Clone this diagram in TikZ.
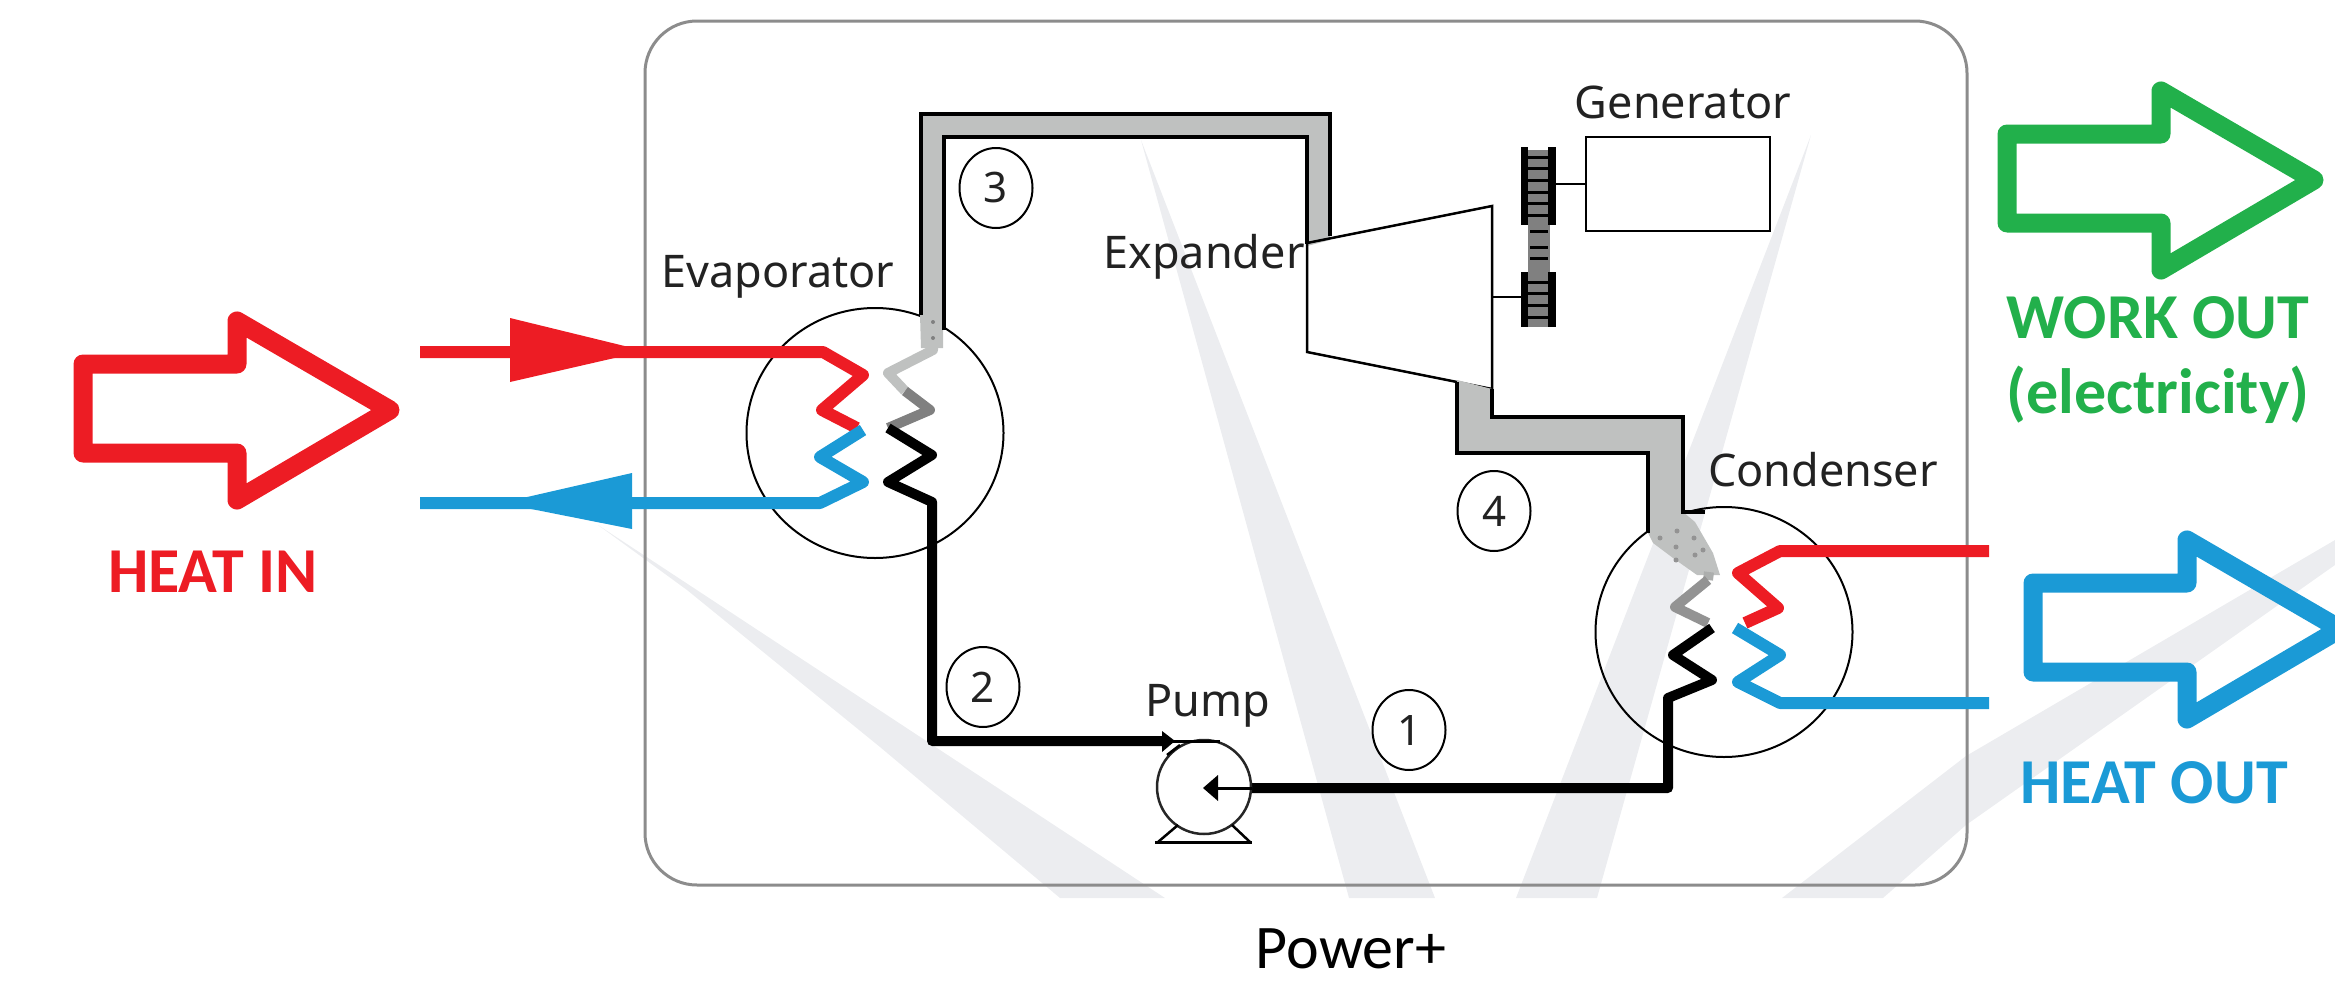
\documentclass[tikz,border=0pt]{standalone}
\usepackage{fontspec}
\setmainfont{Noto Sans}
\newfontfamily\capfont{Carlito}
\usetikzlibrary{shapes.geometric}
\definecolor{hotred}{HTML}{ED1C24}
\definecolor{coldblue}{HTML}{1B9AD6}
\definecolor{workgreen}{HTML}{22B04B}
\definecolor{pipegray}{HTML}{BFC1C0}
\definecolor{midgray}{HTML}{808080}
\definecolor{wmark}{HTML}{ECEDF0}
\definecolor{inkdark}{HTML}{222222}
\tikzset{
  wm/.style={fill=wmark,draw=none},
  bigarrow/.style={line width=19pt,line join=round,fill=none},
  hx/.style={line width=10pt,line join=round},
  flow/.style={line width=12pt,line join=round},
  thin line/.style={line width=2.5pt,black},
  vessel/.style={ellipse,draw=black,line width=2pt,minimum width=257pt,minimum height=250pt,inner sep=0pt},
  statept/.style={ellipse,draw=black,line width=2pt,minimum width=73pt,minimum height=80pt,inner sep=0pt,font=\fontsize{42}{42}\selectfont,text=inkdark},
  lbl/.style={anchor=base,inner sep=0pt,text=inkdark,font=\fontsize{45}{45}\selectfont},
  bold lbl/.style={anchor=base,inner sep=0pt,font=\capfont\bfseries\fontsize{64}{64}\selectfont},
}
\newcommand{\blockarrow}[2]{\draw[bigarrow,#1,shift={#2}] (83,364) -- (237,364) -- (237,321) -- (390,410) -- (237,500) -- (237,453) -- (83,453) -- cycle;}
\begin{document}
\begin{tikzpicture}[x=1pt,y=-1pt]
\useasboundingbox (0,0) rectangle (2335,985);
\clip (0,0) rectangle (2335,985);
% watermark
\fill[wm] (598,525) -- (1165,898) -- (1060,898) -- (880,747) -- (687,590) -- cycle;
\fill[wm] (1141,140) -- (1435,898) -- (1349,898) -- cycle;
\fill[wm] (1811,135) -- (1597,898) -- (1516,898) -- cycle;
\fill[wm] (2335,540) -- (1966,756) -- (1782,898) -- (1883,898) -- (1966,825) -- (2335,565) -- cycle;
% enclosure
\draw[line width=3pt,color=gray!90] (645,73) arc[start angle=180,end angle=270,radius=52] -- (1915,21) arc[start angle=270,end angle=360,radius=52] -- (1967,833) arc[start angle=0,end angle=90,radius=52] -- (697,885) arc[start angle=90,end angle=180,radius=52] -- cycle;
% vessels
\node[vessel] (evap) at (875,433) {};
\node[vessel] (cond) at (1724,632) {};
% coordinates
\coordinate (pumpc) at (1204,787);
% pipe 3
\fill[pipegray] (920,315) -- (920,114) -- (1330,114) -- (1330,240) -- (1307,246) -- (1307,137) -- (943,137) -- (943,348) -- (921,348) -- cycle;
\draw[thin line,line width=4pt] (921,315) -- (921,114) -- (1330,114) -- (1330,236);
\draw[thin line,line width=4pt] (944,330) -- (944,137) -- (1307,137) -- (1307,244);
% expander
\draw[thin line] (1307,243) -- (1492,206) -- (1492,389) -- (1307,352) -- cycle;
% pipe 4
\fill[pipegray] (1457,380) -- (1492,389) -- (1492,417) -- (1683,417) -- (1683,512) -- (1695,522) -- (1713,553) -- (1720,575) -- (1697,575) -- (1673,558) -- (1653,543) -- (1648,533) -- (1648,453) -- (1457,453) -- cycle;
\draw[thin line,line width=3.5pt] (1492,389) -- (1492,417) -- (1683,417) -- (1683,512) -- (1705,512);
\draw[thin line,line width=3.5pt] (1457,382) -- (1457,453) -- (1648,453) -- (1648,533);
% speckle
\foreach \p in {(1677,531),(1660,538),(1676,547),(1694,538),(1695,555),(1703,550),(1676,560)}{\fill[midgray!85] \p circle[radius=2.5];}
\foreach \p in {(933,322),(933,338)}{\fill[midgray] \p circle[radius=2];}
% evaporator hot side
\coordinate (hinS) at (420,352);
\coordinate (hoS) at (420,503);
\draw[flow,hotred] (hinS) -- (823,352) -- (863,375) -- (822,410) -- (857,428);
\draw[flow,coldblue] (hoS) -- (820,503) -- (863,482) -- (820,457) -- (863,430);
\fill[hotred] (510,318) -- (645,351) -- (510,382) -- cycle;
\fill[coldblue] (632,473) -- (501,503) -- (632,529) -- cycle;
% evaporator working side
\draw[hx,pipegray] (933,345) -- (933,350) -- (888,373) -- (905,391);
\draw[hx,midgray] (905,391) -- (930,410) -- (888,428);
\draw[hx,black] (888,428) -- (932,455) -- (888,482) -- (932,502) -- (932,741) -- (1166,741);
% condenser working side
\draw[hx,pipegray!90!black] (1709,572) -- (1708,580);
\draw[hx,midgray!85] (1708,580) -- (1675,607) -- (1708,623);
\draw[hx,black] (1712,628) -- (1673,655) -- (1712,680) -- (1668,698) -- (1668,788) -- (1252,788);
% condenser cold side
\coordinate (cinE) at (1989,551);
\coordinate (coE) at (1989,703);
\draw[flow,hotred] (cinE) -- (1780,551) -- (1738,573) -- (1778,608) -- (1745,623);
\draw[flow,coldblue] (coE) -- (1780,703) -- (1738,682) -- (1780,655) -- (1735,628);
% pump
\node[circle,draw=black!85,line width=2.5pt,minimum size=94pt,inner sep=0pt] (pump) at (pumpc) {};
\draw[line width=3pt] (1155,842) -- (1252,842);
\draw[line width=2.5pt] (1178,825) -- (1158,842);
\draw[line width=2.5pt] (1232,825) -- (1250,842);
\draw[line width=3pt] (1166,741) -- (1220,741);
\draw[line width=2.5pt] (1167,755) -- (1180,745);
\fill[black] (1162,731) -- (1175,741) -- (1162,752) -- cycle;
\fill[black] (1203,788) -- (1218,775) -- (1218,801) -- cycle;
\draw[line width=3pt] (1218,788) -- (1252,788);
% generator
\node[draw=black,line width=2.5pt,minimum width=184pt,minimum height=94pt,inner sep=0pt] (gen) at (1678,184) {};
\fill[midgray] (1528,225) rectangle (1550,272);
\foreach \y in {231,247,258}{\fill[black] (1530,\y-1.5) rectangle (1548,\y+1.5);}
\foreach \ya/\yb in {150/225,272/327}{\fill[midgray] (1528,\ya) rectangle (1548,\yb);}
\foreach \ya/\yb in {147/225,272/327}{
  \fill[black] (1521,\ya) rectangle (1528,\yb);
  \fill[black] (1548,\ya) rectangle (1556,\yb);
}
\foreach \y in {157,168,180,192,203,215,282,293,305,317}{\fill[black] (1528,\y-1.5) rectangle (1548,\y+1.5);}
\draw[thin line] (1556,184) -- (gen.west);
\draw[thin line] (1492,297) -- (1521,297);
% state points
\node[statept] (s1) at (1409,730) {1};
\node[statept] (s2) at (983,687) {2};
\node[statept] (s3) at (996,188) {3};
\node[statept] (s4) at (1494,511) {4};
% labels
\node[lbl] (levap) at (778,287) {Evaporator};
\node[lbl] (lexp) at (1204,268) {Expander};
\node[lbl] (lgen) at (1683,118) {Generator};
\node[lbl] (lcond) at (1823,486) {Condenser};
\node[lbl] (lpump) at (1208,716) {Pump};
\node[anchor=base,inner sep=0pt,font=\capfont\fontsize{62}{62}\selectfont] (lpow) at (1351,968) {Power+};
% block arrows
\blockarrow{hotred}{(0,0)}
\blockarrow{workgreen}{(1924,-230)}
\blockarrow{coldblue}{(1950,219)}
\node[bold lbl,text=hotred] (lhi) at (213,592) {HEAT IN};
\node[bold lbl,text=workgreen] (lwo) at (2158,338) {WORK OUT};
\node[bold lbl,text=workgreen] (lel) at (2158,413) {(electricity)};
\node[bold lbl,text=coldblue] (lho) at (2154,803) {HEAT OUT};
\end{tikzpicture}
\end{document}
